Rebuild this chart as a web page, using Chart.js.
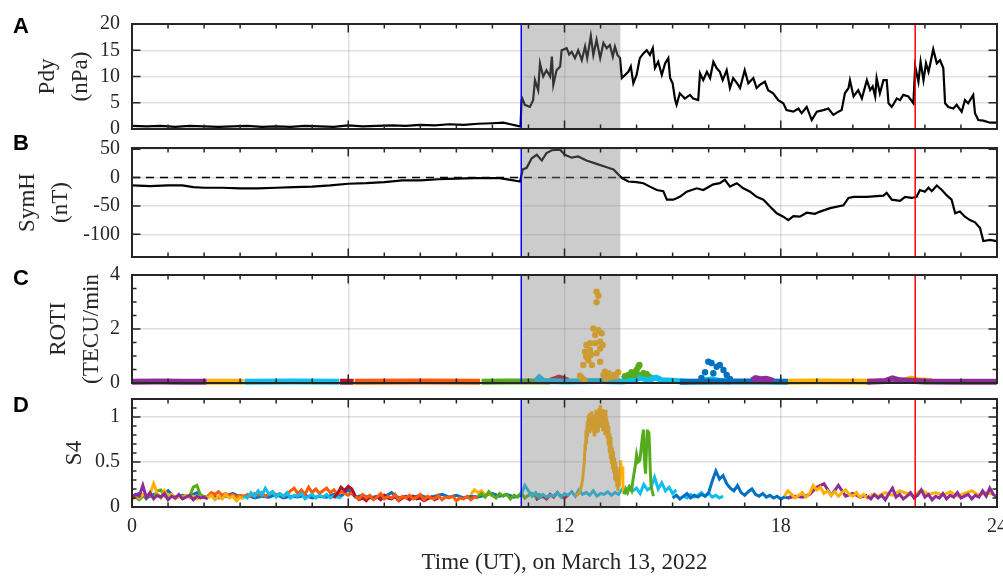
<!DOCTYPE html>
<html>
<head>
<meta charset="utf-8">
<script src="https://cdn.jsdelivr.net/npm/chart.js@4.4.1/dist/chart.umd.min.js"></script>
<style>
  html, body { margin: 0; padding: 0; background: #fff; }
  #wrap { position: relative; width: 1003px; height: 577px; }
  #wrap canvas { position: absolute; left: 0; top: 0; }
</style>
</head>
<body>
<div id="wrap">
  <canvas id="cA" width="1003" height="577"></canvas>
  <canvas id="cB" width="1003" height="577"></canvas>
  <canvas id="cC" width="1003" height="577"></canvas>
  <canvas id="cD" width="1003" height="577"></canvas>
</div>
<script>
// ---- axis ticks ----
const hourLabels = [0, 6, 12, 18, 24];
const hourMinor = [1, 2, 3, 4, 5, 7, 8, 9, 10, 11, 13, 14, 15, 16, 17, 19, 20, 21, 22, 23];
const pdyTicks = [0, 5, 10, 15, 20];
const symhTicks = [-100, -50, 0, 50];
const rotiTicks = [0, 2, 4];
const rotiMinor = [0.5, 1, 1.5, 2.5, 3, 3.5];
const s4Ticks = [0, 0.5, 1];
const s4Minor = [0.1, 0.2, 0.3, 0.4, 0.6, 0.7, 0.8, 0.9, 1.1];

// ---- event times (UT hours) ----
const sscTime = 10.8;
const shadeEnd = 13.55;
const redTime = 21.73;

// ---- A: solar wind dynamic pressure [t, nPa] ----
const pdy = [[0,0.6],[0.4,0.5],[0.8,0.6],[1.2,0.4],[1.6,0.6],[2.0,0.5],[2.4,0.4],[2.8,0.5],[3.2,0.6],[3.6,0.4],[4.0,0.5],[4.4,0.4],
  [4.8,0.6],[5.2,0.5],[5.6,0.4],[6.0,0.7],[6.4,0.5],[6.8,0.6],[7.2,0.7],[7.6,0.6],[8.0,0.8],[8.4,0.7],[8.8,0.9],[9.2,0.8],[9.6,1.0],
  [10.0,1.1],[10.3,1.2],[10.5,0.9],[10.7,0.6],[10.78,0.5],[10.81,5.5],[10.83,5.8],[10.9,4.6],[11.04,4.2],[11.13,5.5],[11.18,9.3],
  [11.27,7.4],[11.32,12.5],[11.41,10],[11.5,11.2],[11.6,10],[11.65,13.8],[11.69,8.4],[11.78,11.2],[11.88,11.9],[11.92,15],[12.06,15.4],
  [12.13,14.2],[12.2,14.7],[12.29,13.5],[12.38,15],[12.48,13.1],[12.57,15.7],[12.63,13.5],[12.73,17.7],[12.8,14.1],[12.89,17],[12.99,13.5],
  [13.08,16.4],[13.17,15.4],[13.26,16],[13.34,13.8],[13.4,15.7],[13.47,14.1],[13.54,13.5],[13.59,9.7],[13.68,10.3],[13.77,10.9],[13.84,11.9],
  [13.91,8.7],[14.0,10.3],[14.09,13.5],[14.19,14.4],[14.28,15],[14.37,14.1],[14.45,15.4],[14.51,11.6],[14.6,12.8],[14.7,10.3],[14.79,12.5],
  [14.88,13.5],[14.93,9.7],[15.0,8.7],[15.07,5.5],[15.11,4.6],[15.2,6.8],[15.34,5.8],[15.48,6.5],[15.57,5.8],[15.71,5.5],[15.76,10.6],
  [15.85,9.3],[15.95,10.9],[16.04,9.7],[16.13,12.8],[16.22,11.6],[16.31,10.9],[16.39,9.3],[16.5,11.2],[16.59,7.8],[16.68,9.7],[16.79,8.7],
  [16.87,7.8],[17.0,11.2],[17.1,8.7],[17.24,9.7],[17.33,7.8],[17.42,8.4],[17.56,9.0],[17.65,7.4],[17.79,6.8],[17.93,5.5],[18.07,4.9],
  [18.16,3.6],[18.35,3.3],[18.49,3.9],[18.58,3.0],[18.72,4.2],[18.86,1.7],[19.0,3.3],[19.18,3.6],[19.32,3.9],[19.46,2.7],[19.6,3.3],
  [19.69,3.6],[19.78,6.8],[19.88,7.8],[19.92,9.3],[20.02,6.2],[20.15,7.4],[20.25,5.8],[20.39,9.3],[20.48,7.4],[20.55,8.1],[20.62,6.2],
  [20.66,9.7],[20.75,6.8],[20.85,9.3],[20.94,9.3],[20.99,4.9],[21.08,4.2],[21.22,5.8],[21.31,5.5],[21.4,6.5],[21.54,6.2],[21.68,4.9],
  [21.73,11.9],[21.82,9.0],[21.88,12.8],[21.96,9.3],[22.03,12.5],[22.1,10.9],[22.16,12.8],[22.23,15.2],[22.33,12.5],[22.42,13.1],
  [22.51,11.6],[22.56,4.9],[22.65,4.2],[22.79,3.9],[22.88,4.6],[23.02,3.3],[23.11,5.5],[23.2,4.9],[23.34,6.5],[23.39,3.0],[23.48,1.7],
  [23.62,1.6],[23.81,1.2],[23.99,1.2]];

// ---- B: SYM-H [t, nT] ----
const symh = [[0,-14],[0.5,-15],[1.0,-14],[1.4,-14],[1.7,-17],[2.0,-18],[2.5,-18],[3.0,-19],[3.5,-19],[4.0,-18],[4.5,-17],[5.0,-16],
  [5.5,-14],[6.0,-11],[6.5,-10],[7.0,-8],[7.5,-5],[8.0,-5],[8.5,-3],[9.0,-2],[9.5,-1],[10.0,-1],[10.2,-1],[10.5,-4],[10.77,-7],
  [10.84,14],[10.95,17],[11.09,34],[11.23,40],[11.37,30],[11.5,43],[11.65,48],[11.88,49],[12.01,40],[12.2,35],[12.38,37],[12.61,30],
  [12.89,24],[13.17,18],[13.36,14],[13.59,-1],[13.77,-7],[14.0,-8],[14.19,-10],[14.37,-16],[14.56,-22],[14.74,-24],[14.84,-39],
  [15.02,-39],[15.2,-34],[15.39,-25],[15.67,-19],[15.85,-22],[16.13,-12],[16.31,-10],[16.45,-4],[16.59,-16],[16.78,-10],[16.96,-19],
  [17.15,-25],[17.33,-34],[17.52,-39],[17.7,-51],[17.89,-63],[18.07,-69],[18.21,-75],[18.35,-68],[18.53,-69],[18.72,-62],[18.95,-64],
  [19.09,-60],[19.37,-54],[19.74,-49],[19.88,-36],[20.02,-34],[20.39,-34],[20.85,-32],[20.94,-27],[21.08,-39],[21.31,-41],[21.45,-34],
  [21.63,-36],[21.77,-34],[21.86,-22],[22.0,-25],[22.1,-18],[22.19,-24],[22.33,-14],[22.47,-22],[22.6,-31],[22.74,-39],[22.84,-63],
  [22.97,-60],[23.11,-69],[23.25,-75],[23.39,-79],[23.53,-89],[23.62,-112],[23.81,-110],[23.99,-112]];

// ---- C: ROTI per satellite [t, TECU/min], null = gap ----
const rotiPurple = [[0,0.05],[0.7,0.06],[1.4,0.05],[2.07,0.05],[2.08,null],[17.2,0.1],[17.3,0.18],[17.45,0.14],[17.6,0.16],[17.8,0.08],
  [17.81,null],[20.4,0.05],[20.9,0.07],[21.1,0.17],[21.3,0.1],[22,0.06],[23,0.05],[24,0.05]];
const rotiYellow = [[2.07,0.05],[3.1,0.05],[3.11,null],[18.2,0.05],[19,0.06],[20.5,0.05],[20.51,null],[21.45,0.1],[21.6,0.16],[21.8,0.1],[22.2,0.07]];
const rotiCyan = [[3.12,0.05],[4.5,0.06],[5.75,0.05],[5.76,null],[11.2,0.06],[11.3,0.2],[11.42,0.07],[12,0.06],[13,0.07],[13.6,0.06],
  [13.9,0.1],[14.1,0.2],[14.3,0.12],[14.55,0.2],[14.7,0.1],[15.0,0.08],[15.4,0.05],[15.41,null],[15.8,0.08],[16.1,0.14],[16.3,0.08],[16.6,0.06]];
const rotiDarkRed = [[5.77,0.05],[6.15,0.05],[6.16,null],[11.6,0.08],[11.85,0.2],[12.1,0.09]];
const rotiOrange = [[6.18,0.05],[8,0.06],[9.66,0.05]];
const rotiGreen = [[9.7,0.05],[10.5,0.06],[11.6,0.06],[11.61,null],[13.6,0.15],[13.8,0.25],[14.0,0.3],[14.3,0.28],[14.5,0.12]];
const rotiBlue = [[15.2,0.05],[16.5,0.06],[17.5,0.06],[18.2,0.05]];
const rotiYellowDots = [[12.89,3.38],[12.94,3.23],[12.89,2.99],[12.8,2.02],[12.94,1.96],[12.85,1.78],[13.03,1.84],[12.61,1.41],[12.71,1.47],
  [12.85,1.47],[12.99,1.53],[13.06,1.41],[12.57,1.16],[12.71,1.22],[12.6,0.97],[12.73,1.04],[12.66,0.85],[12.52,0.67],[12.89,1.1],
  [12.99,1.28],[12.76,0.67],[13.12,0.42],[13.22,0.36],[13.36,0.3],[13.49,0.4],[12.43,0.27],[12.48,0.2],[13.08,0.3],[12.99,0.79],
  [13.3,0.22],[13.42,0.25],[12.55,0.12],[13.15,0.18]];
const rotiGreenDots = [[13.68,0.25],[13.77,0.3],[13.86,0.4],[14.0,0.48],[14.05,0.6],[14.08,0.67],[14.19,0.36],[14.28,0.33],[13.95,0.3]];
const rotiBlueDots = [[15.8,0.19],[15.9,0.4],[15.99,0.79],[16.08,0.74],[16.13,0.36],[16.22,0.6],[16.31,0.67],[16.41,0.48],[16.5,0.3],[16.59,0.15]];

// ---- D: S4 per satellite: [start hour, step hour, values] ----
const s4Blue0 = [0, 0.2, [0.12,0.15,0.10,0.14,0.11,0.18,0.10,0.13,0.12,0.16,0.11,0.13,0.10,0.12,0.15,0.11,0.13,0.10,0.12,0.11,0.14,0.10,
  0.12,0.11,0.13,0.10,0.12,0.11,0.14,0.12,0.19,0.11,0.13,0.10,0.12,0.11,0.16,0.10,0.12,0.11,0.13,0.10,0.12,0.14,0.11,0.13,0.10,0.12,
  0.11,0.13,0.15,0.12,0.14,0.11,0.13]];
const s4Green0 = [0, 0.1, [0.09,0.11,0.08,0.12,0.10,0.13,0.11,0.18,0.19,0.12,0.10,0.13,0.11,0.12,0.10,0.13,0.12,0.22,0.24,0.13,0.11,0.10]];
const s4Yellow0 = [0, 0.1, [0.08,0.12,0.10,0.14,0.13,0.15,0.26,0.15,0.10,0.18,0.12,0.14,0.09,0.12,0.11,0.13,0.10,0.12,0.09,0.11,0.10,0.12]];
const s4Purple1 = [0, 0.1, [0.10,0.14,0.12,0.24,0.10,0.16,0.09,0.13,0.11,0.15,0.08,0.12,0.10,0.14,0.09,0.11,0.13,0.08,0.12,0.10,0.11,0.09]];
const s4Orange0 = [2.1, 0.1, [0.12,0.16,0.14,0.17,0.13,0.15,0.12,0.14,0.11,0.13,0.12]];
const s4Yellow1 = [2.1, 0.1, [0.10,0.13,0.08,0.12,0.09,0.14,0.10,0.12,0.07,0.11,0.09]];
const s4Orange1 = [3.1, 0.1, [0.11,0.14,0.12,0.15,0.13,0.16,0.12,0.14,0.17,0.13,0.15,0.12,0.14,0.18,0.21,0.15,0.19,0.14,0.22,0.16,
  0.20,0.15,0.18,0.21,0.16,0.19,0.14,0.17,0.15,0.13,0.16,0.12]];
const s4Cyan1 = [3.1, 0.1, [0.12,0.10,0.16,0.12,0.18,0.13,0.21,0.14,0.17,0.11,0.15,0.12,0.16,0.10,0.13,0.12,0.15,0.09,0.12,0.14,
  0.10,0.13,0.11,0.14,0.10,0.12,0.11,0.10]];
const s4DarkRed = [5.6, 0.1, [0.10,0.15,0.22,0.18,0.23,0.20,0.12,0.08,0.10,0.07,0.12,0.09,0.11,0.08,0.13,0.10,0.09,0.12,0.07,0.10,
  0.11,0.08,0.12,0.09,0.10,0.07,0.09,0.11,0.08,0.10]];
const s4Orange2 = [6.2, 0.1, [0.12,0.09,0.14,0.10,0.13,0.08,0.11,0.15,0.09,0.12,0.10,0.14,0.08,0.12,0.10,0.13,0.09,0.11,0.14,0.08,
  0.12,0.10,0.09,0.13,0.08,0.11,0.10,0.12,0.07,0.10,0.09,0.12,0.08,0.11,0.10]];
const s4Yellow2 = [9.4, 0.1, [0.14,0.19,0.16,0.18,0.13,0.15,0.12]];
const s4Green1 = [9.6, 0.1, [0.12,0.15,0.11,0.17,0.13,0.10,0.15,0.12,0.14,0.09,0.13,0.11,0.16,0.10,0.13,0.15,0.11,0.14,0.12,0.10,0.12]];
const s4DarkRedB = [11.2, 0.1, [0.08,0.10,0.12,0.09,0.14,0.11,0.16,0.12,0.10,0.13]];
const s4Cyan2 = [10.8, 0.1, [0.14,0.24,0.18,0.12,0.16,0.10,0.14,0.11,0.13,0.12,0.16,0.11,0.15,0.13,0.17,0.12,0.19,0.14,0.16,0.13,
  0.18,0.12,0.15,0.14,0.17,0.13,0.16,0.14,0.20,0.16,0.23,0.18,0.21,0.15,0.25,0.19,0.22,0.33,0.20,0.27,0.18,0.22,0.15,0.19]];
const s4YellowSpikeT = [12.3,12.4,12.45,12.5,12.53,12.55,12.57,12.58,12.6,12.61,12.63,12.64,12.66,12.67,12.69,12.7,12.72,12.73,
  12.75,12.76,12.78,12.79,12.81,12.82,12.84,12.85,12.87,12.88,12.9,12.91,12.93,12.94,12.96,12.97,12.99,13.0,13.02,13.03,13.05,13.06,
  13.08,13.09,13.11,13.12,13.14,13.15,13.17,13.18,13.2,13.21,13.23,13.24,13.26,13.27,13.29,13.3,13.32,13.33,13.35,13.36,13.38,13.39,
  13.41,13.42,13.44,13.45,13.47,13.48,13.5,13.52,13.54,13.56,13.58,13.6,13.62,13.64];
const s4YellowSpikeV = [0.12,0.15,0.2,0.3,0.42,0.5,0.7,0.62,0.86,0.7,0.95,0.78,1.02,0.85,1.04,0.82,1.0,0.86,1.06,0.84,0.98,0.88,
  1.03,0.8,1.02,0.9,1.08,0.84,0.99,0.87,1.05,0.83,1.1,0.9,1.13,0.88,1.06,0.92,1.09,0.84,1.02,0.86,1.07,0.8,1.08,0.85,1.0,0.78,0.95,
  0.7,0.9,0.62,0.82,0.55,0.78,0.48,0.66,0.42,0.62,0.38,0.55,0.3,0.5,0.28,0.45,0.22,0.35,0.18,0.3,0.22,0.42,0.52,0.35,0.45,0.27,0.15];
const s4GreenSpikeT = [13.65,13.7,13.75,13.8,13.86,13.9,13.96,14.0,14.04,14.09,14.12,14.14,14.17,14.19,14.21,14.23,14.25,14.28,14.3,
  14.32,14.34,14.36,14.38,14.4,14.43,14.47];
const s4GreenSpikeV = [0.14,0.2,0.16,0.22,0.18,0.3,0.45,0.58,0.5,0.52,0.62,0.7,0.8,0.86,0.6,0.45,0.37,0.7,0.86,0.78,0.84,0.65,0.4,
  0.25,0.18,0.12];
const s4Cyan3 = [15.3, 0.1, [0.12,0.10,0.14,0.11,0.13,0.16,0.12,0.15,0.11,0.13,0.10,0.12]];
const s4Blue1 = [15.0, 0.1, [0.10,0.13,0.09,0.12,0.15,0.10,0.13,0.11,0.14,0.12,0.16,0.29,0.40,0.31,0.35,0.26,0.21,0.18,0.24,0.16,
  0.13,0.17,0.20,0.14,0.12,0.15,0.11,0.13,0.10,0.12,0.09,0.11,0.10,0.12]];
const s4Purple2 = [18.2, 0.2, [0.10,0.12,0.11,0.14,0.22,0.26,0.13,0.24,0.12,0.15,0.11,0.13]];
const s4Yellow4 = [18.1, 0.1, [0.12,0.18,0.14,0.10,0.13,0.16,0.11,0.15,0.24,0.19,0.22,0.15,0.18,0.13,0.17,0.12,0.16,0.19,0.14,0.12,
  0.16,0.11,0.14,0.10,0.13]];
const s4Yellow5 = [20.5, 0.2, [0.14,0.12,0.16,0.13,0.18,0.15,0.12,0.19,0.14,0.16,0.13,0.17,0.12,0.15,0.18,0.13,0.16,0.14]];
const s4Purple3 = [20.4, 0.1, [0.12,0.09,0.14,0.10,0.13,0.08,0.15,0.21,0.11,0.14,0.09,0.12,0.16,0.10,0.13,0.19,0.11,0.14,0.08,0.12,
  0.10,0.15,0.09,0.13,0.11,0.16,0.10,0.12,0.14,0.09,0.13,0.11,0.18,0.12,0.21,0.14,0.11]];

// ---- colours ----
const cPurple = '#8C2D98', cYellow = '#FFB000', cCyan = '#10BEEE', cDarkRed = '#B3122E',
      cOrange = '#FF5A0A', cGreen = '#55AB1C', cBlue = '#0071C1';
const ink = '#262626';
const gridColor = 'rgba(0,0,0,0.12)';
const serif = '"Liberation Serif", "Times New Roman", serif';

function pts(pairs) { return pairs.map(p => ({x: p[0], y: p[1]})); }
function sampled(s) { return s[2].map((v, i) => ({x: s[0] + i * s[1], y: v})); }
function zipped(t, v) { return t.map((x, i) => ({x: x, y: v[i]})); }

// draws shading, event lines, box, inward ticks and panel letter
const panelDecor = {
  id: 'panelDecor',
  afterDatasetsDraw(chart, args, o) {
    const {ctx, chartArea: a, scales: {x, y}} = chart;
    ctx.save();
    if (o.zeroLine) {
      ctx.strokeStyle = '#000';
      ctx.lineWidth = 1.5;
      ctx.setLineDash([8, 6]);
      const py = y.getPixelForValue(0);
      ctx.beginPath(); ctx.moveTo(a.left, py); ctx.lineTo(a.right, py); ctx.stroke();
      ctx.setLineDash([]);
    }
    const s0 = x.getPixelForValue(sscTime), s1 = x.getPixelForValue(shadeEnd);
    ctx.fillStyle = 'rgba(128,128,128,0.4)';
    ctx.fillRect(s0, a.top, s1 - s0, a.bottom - a.top);

    ctx.lineWidth = 1.5;
    ctx.strokeStyle = '#0000FF';
    ctx.beginPath(); ctx.moveTo(s0, a.top); ctx.lineTo(s0, a.bottom); ctx.stroke();
    const r = x.getPixelForValue(redTime);
    ctx.strokeStyle = '#FF0000';
    ctx.beginPath(); ctx.moveTo(r, a.top); ctx.lineTo(r, a.bottom); ctx.stroke();

    // inward ticks
    ctx.strokeStyle = ink;
    ctx.lineWidth = 1.5;
    ctx.beginPath();
    const xt = (v, len) => {
      const px = x.getPixelForValue(v);
      ctx.moveTo(px, a.top); ctx.lineTo(px, a.top + len);
      ctx.moveTo(px, a.bottom); ctx.lineTo(px, a.bottom - len);
    };
    const yt = (v, len) => {
      const py = y.getPixelForValue(v);
      ctx.moveTo(a.left, py); ctx.lineTo(a.left + len, py);
      ctx.moveTo(a.right, py); ctx.lineTo(a.right - len, py);
    };
    hourLabels.forEach(v => xt(v, 8.5));
    hourMinor.forEach(v => xt(v, 4.5));
    o.yMajor.forEach(v => yt(v, 8.5));
    (o.yMinor || []).forEach(v => yt(v, 4.5));
    ctx.stroke();

    ctx.lineWidth = 2;
    ctx.strokeRect(a.left, a.top, a.right - a.left, a.bottom - a.top);

    ctx.fillStyle = '#000';
    ctx.font = 'bold 22px "Liberation Sans", Arial, sans-serif';
    ctx.textAlign = 'center';
    ctx.textBaseline = 'middle';
    ctx.fillText(o.letter, 21, o.letterY);
    ctx.restore();
  }
};

function makePanel(id, cfg) {
  const hasX = !!cfg.xTitle;
  return new Chart(document.getElementById(id), {
    type: 'line',
    data: {datasets: cfg.datasets},
    plugins: [panelDecor],
    options: {
      responsive: false,
      animation: false,
      events: [],
      layout: {padding: {top: cfg.top, bottom: cfg.bottom, left: 0, right: 6}},
      elements: {point: {radius: 0}, line: {tension: 0}},
      plugins: {
        legend: {display: false},
        tooltip: {enabled: false},
        panelDecor: cfg.decor
      },
      scales: {
        x: {
          type: 'linear', min: 0, max: 24, bounds: 'data',
          afterBuildTicks: s => { s.ticks = hourLabels.map(v => ({value: v})); },
          afterFit: s => { s.height = cfg.xHeight; s.paddingLeft = 0; s.paddingRight = 0; },
          grid: {color: gridColor, lineWidth: 1.5, drawTicks: false},
          border: {display: false},
          ticks: {display: hasX, autoSkip: false, maxRotation: 0, padding: 8, color: ink,
                  font: {family: serif, size: 20}, callback: v => String(v)},
          title: {display: hasX, text: cfg.xTitle || '', color: ink,
                  font: {family: serif, size: 23}, padding: {top: 0, bottom: 0}}
        },
        y: {
          type: 'linear', min: cfg.yMin, max: cfg.yMax, bounds: 'data',
          afterBuildTicks: s => { s.ticks = cfg.yTicks.map(v => ({value: v})); },
          afterFit: s => { s.width = 132; s.paddingTop = 0; s.paddingBottom = 0; },
          grid: {color: gridColor, lineWidth: 1.5, drawTicks: false},
          border: {display: false},
          ticks: {autoSkip: false, padding: 12, color: ink, font: {family: serif, size: 20}, callback: v => String(v)},
          title: {display: true, text: cfg.yTitle, color: ink,
                  font: {family: serif, size: 23, lineHeight: 1.42}, padding: {top: cfg.titlePad, bottom: 0}}
        }
      }
    }
  });
}

function lineSet(data, color, width) {
  return {data: data, borderColor: color, borderWidth: width, pointRadius: 0, fill: false, clip: 8, spanGaps: false};
}
function dotSet(data, color) {
  return {data: data, showLine: false, pointRadius: 3.2, pointBorderWidth: 0,
          pointBackgroundColor: color, borderColor: color, clip: 8};
}

// A
makePanel('cA', {
  top: 24, bottom: 448, xHeight: 0, yMin: 0, yMax: 20, yTicks: pdyTicks,
  yTitle: ['Pdy', '(nPa)'], titlePad: 32,
  datasets: [lineSet(pts(pdy), '#000', 2.2)],
  decor: {letter: 'A', letterY: 27, yMajor: pdyTicks}
});

// B
makePanel('cB', {
  top: 148, bottom: 320, xHeight: 0, yMin: -140, yMax: 52, yTicks: symhTicks,
  yTitle: ['SymH', '(nT)'], titlePad: 12,
  datasets: [lineSet(pts(symh), '#000', 2.2)],
  decor: {letter: 'B', letterY: 144, yMajor: symhTicks, zeroLine: true}
});

// C (bottom-to-top drawing order, reversed for Chart.js)
const rotiSets = [
  lineSet(pts(rotiOrange), cOrange, 6),
  lineSet(pts(rotiDarkRed), cDarkRed, 6),
  lineSet(pts(rotiGreen), cGreen, 6),
  lineSet(pts(rotiCyan), cCyan, 6),
  lineSet(pts(rotiBlue), cBlue, 6),
  lineSet(pts(rotiYellow), cYellow, 6),
  lineSet(pts(rotiPurple), cPurple, 6),
  dotSet(pts(rotiYellowDots), cYellow),
  dotSet(pts(rotiGreenDots), cGreen),
  dotSet(pts(rotiBlueDots), cBlue)
].reverse();
makePanel('cC', {
  top: 275, bottom: 194, xHeight: 0, yMin: 0, yMax: 4, yTicks: rotiTicks,
  yTitle: ['ROTI', '(TECU/min'], titlePad: 43,
  datasets: rotiSets,
  decor: {letter: 'C', letterY: 279, yMajor: rotiTicks, yMinor: rotiMinor}
});

// D
const w = 3;
const s4Sets = [
  lineSet(sampled(s4Blue0), cBlue, w),
  lineSet(sampled(s4Green0), cGreen, w),
  lineSet(sampled(s4Yellow0), cYellow, w),
  lineSet(sampled(s4Purple1), cPurple, w),
  lineSet(sampled(s4Orange0), cOrange, w),
  lineSet(sampled(s4Yellow1), cYellow, w),
  lineSet(sampled(s4Orange1), cOrange, w),
  lineSet(sampled(s4Cyan1), cCyan, w),
  lineSet(sampled(s4DarkRed), cDarkRed, w),
  lineSet(sampled(s4Orange2), cOrange, w),
  lineSet(sampled(s4Yellow2), cYellow, w),
  lineSet(sampled(s4Green1), cGreen, w),
  lineSet(sampled(s4DarkRedB), cDarkRed, w),
  lineSet(sampled(s4Cyan2), cCyan, w),
  lineSet(zipped(s4YellowSpikeT, s4YellowSpikeV), cYellow, w),
  lineSet(zipped(s4GreenSpikeT, s4GreenSpikeV), cGreen, w),
  lineSet(sampled(s4Cyan3), cCyan, w),
  lineSet(sampled(s4Blue1), cBlue, w),
  lineSet(sampled(s4Purple2), cPurple, w),
  lineSet(sampled(s4Yellow4), cYellow, w),
  lineSet(sampled(s4Yellow5), cYellow, w),
  lineSet(sampled(s4Purple3), cPurple, w)
].reverse();
makePanel('cD', {
  top: 399, bottom: 0, xHeight: 70, yMin: 0, yMax: 1.2, yTicks: s4Ticks,
  yTitle: 'S4', titlePad: 59,
  xTitle: 'Time (UT), on March 13, 2022',
  datasets: s4Sets,
  decor: {letter: 'D', letterY: 406, yMajor: s4Ticks, yMinor: s4Minor}
});
</script>
</body>
</html>
